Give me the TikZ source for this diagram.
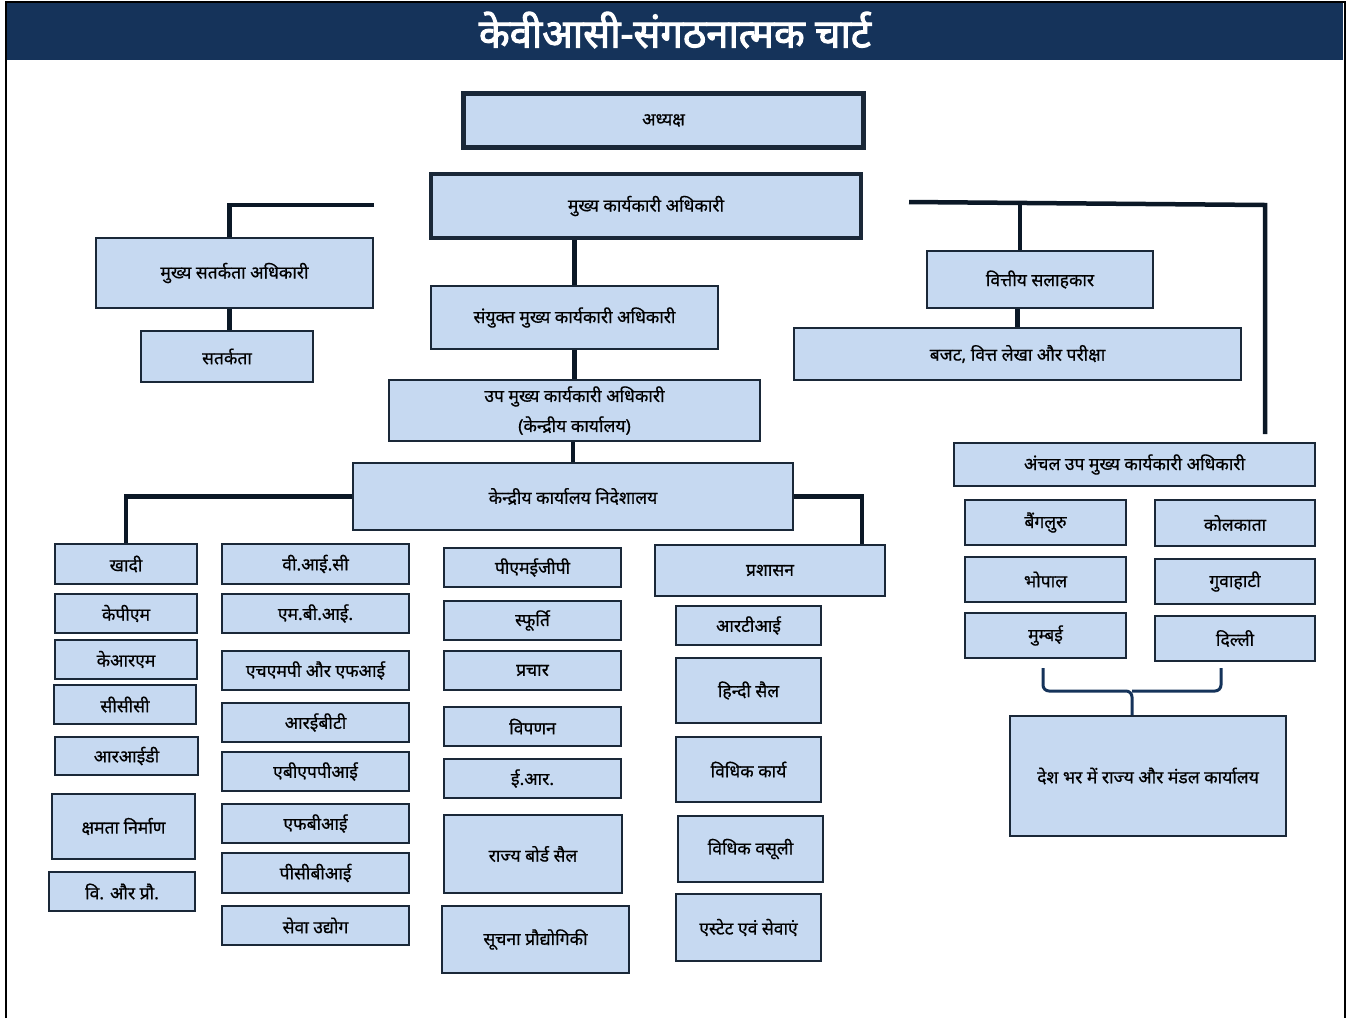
\documentclass[tikz,border=0pt]{standalone}
\usepackage{fontspec}
\setmainfont{Noto Sans}[Script=Devanagari]
\newfontfamily\boxfont{Noto Sans}[Script=Devanagari, FakeBold=0.6]
\newfontfamily\titlefont{Noto Sans}[Script=Devanagari, FakeBold=2.5]
\usepackage{tikz}

\definecolor{navy}{HTML}{15335A}
\definecolor{boxfill}{HTML}{C6D9F1}
\definecolor{boxline}{HTML}{1A2838}
\definecolor{linkcol}{HTML}{0B1826}

\begin{document}
\begin{tikzpicture}[x=1pt, y=-1pt,
  box/.style={draw=boxline, fill=boxfill, line width=1.6pt, inner sep=0pt, align=center, font=\boxfont\fontsize{17.5}{30}\selectfont},
  link/.style={draw=linkcol, line width=4.5pt},
  brace/.style={draw=navy, line width=3pt, rounded corners=6pt}]

  \useasboundingbox (0,0) rectangle (1346,1018);
  \draw [line width=2pt] (5.5,1018) -- (5.5,2) -- (1344.5,2) -- (1344.5,1018);
  \fill [navy] (7,3) rectangle (1343,60);
  \node [text=white, font=\titlefont\fontsize{40}{42}\selectfont] (title) at (675,30) {केवीआसी-संगठनात्मक चार्ट};

  \node [box, line width=5pt, minimum width=400pt, minimum height=54pt] (chair) at (663.5,120.5) {अध्यक्ष};
  \node [box, line width=3.5pt, minimum width=430pt, minimum height=64pt] (ceo) at (646,206) {मुख्य कार्यकारी अधिकारी};
  \node [box, minimum width=277pt, minimum height=70pt] (cvo) at (234.5,273) {मुख्य सतर्कता अधिकारी};
  \node [box, minimum width=172pt, minimum height=51pt] (vig) at (227,356.5) {सतर्कता};
  \node [box, minimum width=287pt, minimum height=63pt] (jceo) at (574.5,317.5) {संयुक्त मुख्य कार्यकारी अधिकारी};
  \node [box, minimum width=371pt, minimum height=61pt] (dceo) at (574.5,410.5) {उप मुख्य कार्यकारी अधिकारी\\(केन्द्रीय कार्यालय)};
  \node [box, minimum width=440pt, minimum height=67pt] (codir) at (573,496.5) {केन्द्रीय कार्यालय निदेशालय};
  \node [box, minimum width=226pt, minimum height=57pt] (fa) at (1040,279.5) {वित्तीय सलाहकार};
  \node [box, minimum width=447pt, minimum height=52pt] (bfa) at (1017.5,354) {बजट, वित्त लेखा और परीक्षा};

  \node [box, minimum width=361pt, minimum height=43pt] (zdceo) at (1134.5,464.5) {अंचल उप मुख्य कार्यकारी अधिकारी};
  \node [box, minimum width=161pt, minimum height=45pt] (blr) at (1045.5,522.5) {बैंगलुरु};
  \node [box, minimum width=160pt, minimum height=46pt] (kol) at (1235,523) {कोलकाता};
  \node [box, minimum width=161pt, minimum height=45pt] (bho) at (1045.5,579.5) {भोपाल};
  \node [box, minimum width=160pt, minimum height=45pt] (guw) at (1235,581.5) {गुवाहाटी};
  \node [box, minimum width=161pt, minimum height=45pt] (mum) at (1045.5,635.5) {मुम्बई};
  \node [box, minimum width=160pt, minimum height=45pt] (del) at (1235,638.5) {दिल्ली};
  \node [box, minimum width=276pt, minimum height=120pt] (states) at (1148,776) {देश भर में राज्य और मंडल कार्यालय};

  \node [box, minimum width=142pt, minimum height=40pt] (khadi) at (126,564) {खादी};
  \node [box, minimum width=142pt, minimum height=39pt] (kpm) at (126,613.5) {केपीएम};
  \node [box, minimum width=142pt, minimum height=39pt] (krm) at (126,659.5) {केआरएम};
  \node [box, minimum width=142pt, minimum height=39pt] (ccc) at (125,704.5) {सीसीसी};
  \node [box, minimum width=143pt, minimum height=38pt] (rid) at (126.5,756) {आरआईडी};
  \node [box, minimum width=143pt, minimum height=65pt] (capb) at (123.5,826.5) {क्षमता निर्माण};
  \node [box, minimum width=146pt, minimum height=39pt] (snt) at (122,891.5) {वि. और प्रौ.};

  \node [box, minimum width=187pt, minimum height=40pt] (vic) at (315.5,564) {वी.आई.सी};
  \node [box, minimum width=187pt, minimum height=39pt] (mbi) at (315.5,613.5) {एम.बी.आई.};
  \node [box, minimum width=187pt, minimum height=39pt] (hmp) at (315.5,670.5) {एचएमपी और एफआई};
  \node [box, minimum width=187pt, minimum height=39pt] (rebt) at (315.5,722.5) {आरईबीटी};
  \node [box, minimum width=187pt, minimum height=39pt] (abfpi) at (315.5,771.5) {एबीएपपीआई};
  \node [box, minimum width=187pt, minimum height=39pt] (fbi) at (315.5,823.5) {एफबीआई};
  \node [box, minimum width=187pt, minimum height=40pt] (pcbi) at (315.5,873) {पीसीबीआई};
  \node [box, minimum width=187pt, minimum height=39pt] (sevaud) at (315.5,925.5) {सेवा उद्योग};

  \node [box, minimum width=177pt, minimum height=39pt] (pmegp) at (532.5,567.5) {पीएमईजीपी};
  \node [box, minimum width=177pt, minimum height=39pt] (sfurti) at (532.5,620.5) {स्फूर्ति};
  \node [box, minimum width=177pt, minimum height=39pt] (prachar) at (532.5,670.5) {प्रचार};
  \node [box, minimum width=177pt, minimum height=39pt] (vipanan) at (532.5,726.5) {विपणन};
  \node [box, minimum width=177pt, minimum height=39pt] (er) at (532.5,778.5) {ई.आर.};
  \node [box, minimum width=178pt, minimum height=78pt] (rbc) at (533,854) {राज्य बोर्ड सैल};
  \node [box, minimum width=187pt, minimum height=67pt] (itb) at (535.5,939.5) {सूचना प्रौद्योगिकी};

  \node [box, minimum width=230pt, minimum height=51pt] (admin) at (770,570.5) {प्रशासन};
  \node [box, minimum width=145pt, minimum height=39pt] (rti) at (748.5,625.5) {आरटीआई};
  \node [box, minimum width=145pt, minimum height=65pt] (hindi) at (748.5,690.5) {हिन्दी सैल};
  \node [box, minimum width=145pt, minimum height=65pt] (legal) at (748.5,769.5) {विधिक कार्य};
  \node [box, minimum width=145pt, minimum height=66pt] (recov) at (750.5,849) {विधिक वसूली};
  \node [box, minimum width=145pt, minimum height=67pt] (estate) at (748.5,927.5) {एस्टेट एवं सेवाएं};

  \coordinate (cvoend) at (374,205);
  \coordinate (faleft) at (909,202);
  \coordinate (faright) at (1265,205);
  \draw [link] (cvoend) -| ([xshift=-5pt]cvo.north);
  \draw [link] ([xshift=-5pt]cvo.south) -- ([xshift=-5pt]cvo.south |- vig.north);
  \draw [link] (jceo.north) -- (jceo.north |- ceo.south);
  \draw [link] (jceo.south) -- (dceo.north);
  \draw [link] (codir.north) -- (codir.north |- dceo.south);
  \draw [link] (codir.west) -| (khadi.north);
  \draw [link] (codir.east) -| ([xshift=-24pt]admin.north east);
  \draw [link] (faleft) -- (faright) -- ([yshift=8pt]faright |- zdceo.north);
  \draw [link] ([xshift=-20pt]fa.north) -- ([xshift=-20pt]fa.north |- faleft);
  \draw [link] (bfa.north |- fa.south) -- (bfa.north);

  \coordinate (bracel) at (1043,668);
  \coordinate (bracer) at (1221,668);
  \coordinate (bracem) at (1132,691);
  \draw [brace] (bracel) |- (bracem) -- (bracem |- states.north);
  \draw [brace] (bracer) |- (bracem);
\end{tikzpicture}
\end{document}
